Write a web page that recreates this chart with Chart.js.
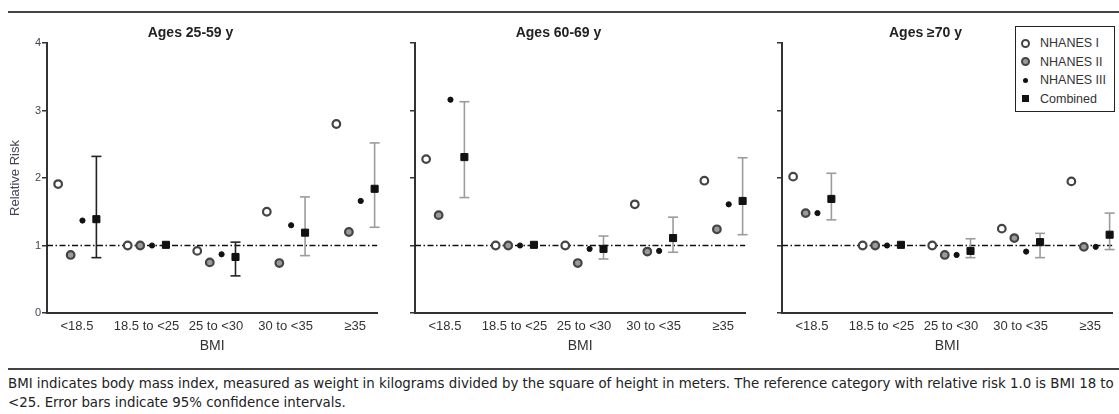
<!DOCTYPE html>
<html>
<head>
<meta charset="utf-8">
<script src="https://cdn.jsdelivr.net/npm/chart.js@4.4.1/dist/chart.umd.min.js"></script>
<style>
  body { margin: 0; background: #fff; }
  #wrap { position: relative; width: 1119px; height: 414px; overflow: hidden; background: #fff; font-family: "Liberation Sans", Arial, sans-serif; color: #222; }
  .panel { position: absolute; top: 0; width: 384px; height: 355px; }
  .rule { position: absolute; left: 8px; right: 0; height: 2px; background: #444; }
  #legend { position: absolute; left: 1015px; top: 26px; width: 100px; height: 86px; box-sizing: border-box; border: 1.5px solid #222; background: #fff; }
  .item { position: absolute; left: 0; height: 18px; line-height: 18px; font-size: 12.5px; color: #333; white-space: nowrap; }
  .item span.txt { position: absolute; left: 24px; }
  .mk { position: absolute; box-sizing: border-box; }
  .caption { position: absolute; left: 8px; white-space: nowrap; line-height: 19px; font-family: "DejaVu Sans Condensed", "DejaVu Sans", sans-serif; font-stretch: condensed; color: #222; font-size: 13px; }
</style>
</head>
<body>
<div id="wrap">
  <div class="rule" style="top:11px"></div>
  <div class="panel" style="left:0px"><canvas id="p0"></canvas></div>
  <div class="panel" style="left:368px"><canvas id="p1"></canvas></div>
  <div class="panel" style="left:735px"><canvas id="p2"></canvas></div>
  <div id="legend"></div>
  <div class="rule" style="top:368px"></div>
  <div class="caption" id="cap1" style="top:374px">BMI indicates body mass index, measured as weight in kilograms divided by the square of height in meters. The reference category with relative risk 1.0 is BMI 18 to</div>
  <div class="caption" id="cap2" style="top:393px">&lt;25. Error bars indicate 95% confidence intervals.</div>
</div>
<script>
// categorias de IMC y paneles por edad
const categories = ['<18.5', '18.5 to <25', '25 to <30', '30 to <35', '≥35'];
const panelTitles = ['Ages 25-59 y', 'Ages 60-69 y', 'Ages ≥70 y'];
const seriesNames = ['NHANES I', 'NHANES II', 'NHANES III', 'Combined'];
const yTicks = [0, 1, 2, 3, 4];
const referenceRisk = 1;

// riesgo relativo por panel (fila) y categoria (columna)
const nhanes1 = [
  [1.91, 1.00, 0.92, 1.50, 2.80],
  [2.28, 1.00, 1.00, 1.61, 1.96],
  [2.02, 1.00, 1.00, 1.25, 1.95]
];
const nhanes2 = [
  [0.86, 1.00, 0.75, 0.74, 1.20],
  [1.45, 1.00, 0.74, 0.91, 1.24],
  [1.48, 1.00, 0.86, 1.11, 0.98]
];
const nhanes3 = [
  [1.37, 1.00, 0.87, 1.30, 1.66],
  [3.16, 1.00, 0.95, 0.92, 1.61],
  [1.48, 1.00, 0.86, 0.91, 0.98]
];
const combined = [
  [1.39, 1.01, 0.83, 1.19, 1.84],
  [2.31, 1.01, 0.95, 1.11, 1.66],
  [1.69, 1.01, 0.92, 1.05, 1.16]
];
// intervalos de confianza 95% del combinado
const ciLow = [
  [0.82, null, 0.55, 0.85, 1.27],
  [1.71, null, 0.80, 0.90, 1.16],
  [1.38, null, 0.82, 0.82, 0.94]
];
const ciHigh = [
  [2.32, null, 1.05, 1.72, 2.52],
  [3.13, null, 1.14, 1.42, 2.30],
  [2.07, null, 1.10, 1.18, 1.48]
];

// estilo: barras de error negras (el resto gris)
const darkBars = [[0, 2], [], []];
const offsets = [-0.27, -0.09, 0.08, 0.28];
const xMin = -0.43, xMax = 4.32;

const markerStyles = [
  { pointStyle: 'circle', pointRadius: 3.8, pointBorderWidth: 2.2, pointBorderColor: '#444', pointBackgroundColor: '#fff' },
  { pointStyle: 'circle', pointRadius: 3.8, pointBorderWidth: 2.2, pointBorderColor: '#444', pointBackgroundColor: '#9a9a9a' },
  { pointStyle: 'circle', pointRadius: 2.6, pointBorderWidth: 1, pointBorderColor: '#111', pointBackgroundColor: '#111' },
  { pointStyle: 'rect', pointRadius: 5, pointBorderWidth: 1, pointBorderColor: '#111', pointBackgroundColor: '#111' }
];

function construirPanel(p) {
  const series = [nhanes1[p], nhanes2[p], nhanes3[p], combined[p]];
  const datasets = [];

  series.forEach((vals, s) => {
    datasets.push(Object.assign({
      type: 'scatter',
      label: seriesNames[s],
      data: vals.map((v, i) => ({ x: i + offsets[s], y: v })),
      showLine: false,
      clip: false
    }, markerStyles[s]));
  });

  // barras de error
  categories.forEach((c, i) => {
    if (ciLow[p][i] === null) return;
    const col = darkBars[p].includes(i) ? '#222' : '#9c9c9c';
    datasets.push({
      type: 'line',
      label: 'ci',
      data: [{ x: i + offsets[3], y: ciLow[p][i] }, { x: i + offsets[3], y: ciHigh[p][i] }],
      borderColor: col,
      borderWidth: 1.6,
      pointStyle: 'line',
      pointRadius: 5,
      pointBorderWidth: 1.6,
      pointBorderColor: col,
      pointHoverRadius: 5,
      clip: false
    });
  });

  // linea de referencia en 1.0
  datasets.push({
    type: 'line',
    label: 'ref',
    data: [{ x: xMin, y: referenceRisk }, { x: xMax, y: referenceRisk }],
    borderColor: '#111',
    borderWidth: 1.3,
    borderDash: [6, 2.5, 1.5, 2.5],
    pointRadius: 0
  });

  const conEtiquetas = p === 0;

  return new Chart(document.getElementById('p' + p), {
    type: 'scatter',
    data: { datasets },
    options: {
      responsive: false,
      animation: false,
      events: [],
      devicePixelRatio: 1,
      layout: { padding: { left: 0, right: 3, top: 0, bottom: 0 } },
      plugins: {
        legend: { display: false },
        tooltip: { enabled: false },
        title: {
          display: true,
          text: panelTitles[p],
          color: '#222',
          font: { family: 'Liberation Sans', size: 14, weight: 'bold', lineHeight: 1.2 },
          padding: { top: 25, bottom: 1.2 }
        }
      },
      scales: {
        x: {
          type: 'linear',
          min: xMin,
          max: xMax,
          afterBuildTicks: (scale) => { scale.ticks = categories.map((c, i) => ({ value: i })); },
          afterFit: (scale) => { scale.height = 42; },
          ticks: {
            callback: (v) => categories[v],
            color: '#333',
            font: { family: 'Liberation Sans', size: 13 },
            padding: 6,
            maxRotation: 0,
            autoSkip: false
          },
          grid: { display: false, drawTicks: false },
          border: { display: true, color: '#333', width: 2 },
          title: {
            display: true,
            text: 'BMI',
            color: '#333',
            font: { family: 'Liberation Sans', size: 14, lineHeight: 1.2 },
            padding: { top: 0, bottom: 0 }
          }
        },
        y: {
          min: 0,
          max: 4,
          afterBuildTicks: (scale) => { scale.ticks = yTicks.map(v => ({ value: v })); },
          afterFit: (scale) => { scale.width = 47; },
          ticks: {
            callback: (v) => conEtiquetas ? String(v) : '',
            color: '#445',
            font: { family: 'Liberation Sans', size: 11 },
            padding: 1
          },
          grid: { drawOnChartArea: false, drawTicks: true, tickLength: 5, color: '#333', lineWidth: 1.5 },
          border: { display: true, color: '#333', width: 2 },
          title: {
            display: conEtiquetas,
            text: 'Relative Risk',
            color: '#445',
            font: { family: 'Liberation Sans', size: 13, lineHeight: 1.2 },
            padding: { top: 8, bottom: 0 }
          }
        }
      }
    }
  });
}

[0, 1, 2].forEach(p => {
  const cv = document.getElementById('p' + p);
  cv.width = 384;
  cv.height = 355;
  construirPanel(p);
});

// leyenda
const legend = document.getElementById('legend');
const mkCss = [
  'width:9px;height:9px;border:2px solid #444;border-radius:50%;background:#fff;',
  'width:9px;height:9px;border:2px solid #444;border-radius:50%;background:#9a9a9a;',
  'width:5px;height:5px;border-radius:50%;background:#111;',
  'width:7px;height:7px;background:#111;'
];
const mkSize = [9, 9, 5, 7];
seriesNames.forEach((name, s) => {
  const cy = 16 + s * 18.5;
  const it = document.createElement('div');
  it.className = 'item';
  it.style.top = (cy - 9) + 'px';
  it.style.width = '98px';
  const m = document.createElement('span');
  m.className = 'mk';
  m.style.cssText += mkCss[s] + 'left:' + (9 - mkSize[s] / 2) + 'px;top:' + (9 - mkSize[s] / 2) + 'px;';
  const t = document.createElement('span');
  t.className = 'txt';
  t.textContent = name;
  it.appendChild(m);
  it.appendChild(t);
  legend.appendChild(it);
});

// ajustar el pie de figura al ancho de la linea
const cap1 = document.getElementById('cap1');
const cap2 = document.getElementById('cap2');
const w13 = cap1.getBoundingClientRect().width;
const size = Math.min(18, Math.max(11, 13 * 1106 / w13));
cap1.style.fontSize = size.toFixed(2) + 'px';
cap2.style.fontSize = size.toFixed(2) + 'px';
</script>
</body>
</html>
